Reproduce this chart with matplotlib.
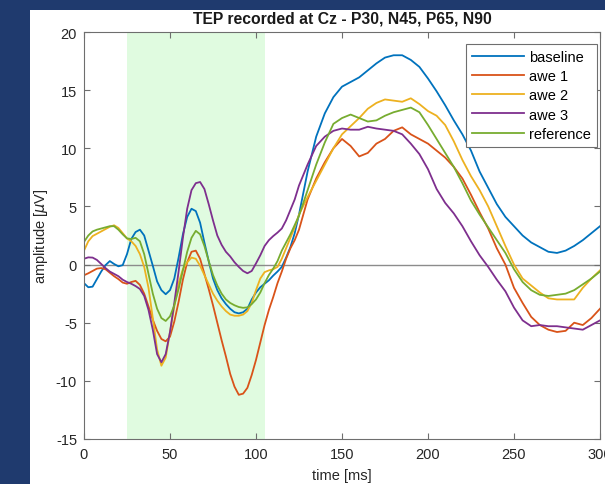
import numpy as np
import matplotlib
matplotlib.use("Agg")
import matplotlib.pyplot as plt
from matplotlib.patches import Rectangle

plt.rcParams['font.family'] = ['Liberation Sans', 'DejaVu Sans']
plt.rcParams['axes.unicode_minus'] = False

# time axis: 2.5 ms steps up to 122.5 ms, then 5 ms steps up to 300 ms
time_ms = np.concatenate([np.arange(0, 125, 2.5), np.arange(125, 301, 5)])

baseline = [-1.6, -1.95, -1.9, -1.25, -0.6, -0.05, 0.3, 0.05, -0.15, -0.05,
            0.9, 2.2, 2.8, 3.0, 2.5, 1.2, -0.1, -1.45, -2.2, -2.55,
            -2.2, -1.2, 0.6, 2.6, 4.1, 4.8, 4.6, 3.6, 1.9, 0.3,
            -1.2, -2.2, -2.9, -3.4, -3.8, -4.1, -4.2, -4.1, -3.8, -3.0,
            -2.4, -1.95, -1.65, -1.35, -0.95, -0.6, -0.2, 0.6, 1.5, 2.7, 4.3,
            8.0, 11.0, 13.0, 14.4, 15.3, 15.7, 16.1, 16.7, 17.3, 17.8, 18.0, 18.0, 17.6, 17.0,
            16.0, 14.9, 13.7, 12.4, 11.2, 9.8, 8.0, 6.6, 5.2, 4.1, 3.3, 2.5, 1.9, 1.5, 1.1,
            1.0, 1.2, 1.6, 2.1, 2.7, 3.3]
awe1 = [-0.92, -0.75, -0.55, -0.35, -0.3, -0.4, -0.7, -1.0, -1.25, -1.55,
        -1.65, -1.5, -1.4, -1.75, -2.5, -3.6, -4.75, -5.7, -6.4, -6.6,
        -6.2, -4.9, -3.2, -1.3, 0.2, 1.1, 1.2, 0.5, -0.8, -2.1,
        -3.5, -5.0, -6.5, -7.9, -9.4, -10.5, -11.2, -11.1, -10.6, -9.5,
        -8.2, -6.7, -5.2, -3.9, -2.8, -1.6, -0.6, 0.5, 1.4, 2.1, 3.0,
        5.6, 7.4, 8.8, 10.0, 10.8, 10.2, 9.3, 9.6, 10.4, 10.8, 11.5, 11.8, 11.2, 10.8,
        10.4, 9.8, 9.2, 8.4, 7.4, 6.0, 4.5, 3.1, 1.4, 0.0, -2.0, -3.3, -4.5, -5.2, -5.6,
        -5.8, -5.7, -5.0, -5.2, -4.6, -3.8]
awe2 = [1.2, 2.0, 2.45, 2.65, 2.85, 3.05, 3.25, 3.38, 3.15, 2.7,
        2.25, 2.0, 1.6, 0.9, -0.2, -2.0, -4.6, -7.3, -8.7, -8.0,
        -5.8, -3.6, -1.6, -0.4, 0.2, 0.6, 0.5, -0.1, -0.9, -1.7,
        -2.5, -3.1, -3.6, -4.0, -4.3, -4.4, -4.4, -4.3, -4.0, -3.3,
        -2.2, -1.2, -0.65, -0.5, -0.4, -0.2, 0.5, 1.4, 2.3, 3.2, 4.3,
        5.8, 7.2, 8.6, 10.0, 11.2, 11.9, 12.6, 13.4, 13.9, 14.2, 14.1, 14.0, 14.3, 13.8,
        13.2, 12.8, 12.0, 10.6, 9.0, 7.6, 6.4, 5.0, 3.3, 1.6, 0.0, -1.2, -1.8, -2.4, -2.9,
        -3.0, -3.0, -3.0, -2.0, -1.2, -0.5]
awe3 = [0.5, 0.62, 0.6, 0.4, 0.05, -0.3, -0.6, -0.8, -1.0, -1.3,
        -1.5, -1.65, -1.85, -2.1, -2.7, -3.9, -5.6, -7.7, -8.4, -7.7,
        -5.8, -3.3, -0.6, 2.3, 4.8, 6.4, 7.0, 7.1, 6.5, 5.2,
        3.8, 2.5, 1.7, 1.1, 0.7, 0.2, -0.2, -0.55, -0.75, -0.55,
        0.1, 0.8, 1.6, 2.1, 2.45, 2.75, 3.1, 3.8, 4.7, 5.6, 6.8,
        8.6, 10.2, 11.0, 11.5, 11.7, 11.6, 11.6, 11.85, 11.7, 11.6, 11.5, 11.2, 10.4, 9.5,
        8.2, 6.5, 5.3, 4.4, 3.3, 2.0, 0.8, -0.2, -1.3, -2.3, -3.7, -4.8, -5.3, -5.2, -5.3,
        -5.3, -5.4, -5.5, -5.6, -5.2, -4.8]
reference = [1.95, 2.5, 2.85, 3.0, 3.1, 3.2, 3.3, 3.3, 3.0, 2.6,
             2.25, 2.2, 2.3, 2.0, 0.9, -0.8, -2.5, -3.8, -4.6, -4.85,
             -4.45, -3.5, -2.1, -0.5, 1.1, 2.3, 2.9, 2.6, 1.6, 0.3,
             -0.9, -1.8, -2.5, -3.0, -3.3, -3.5, -3.65, -3.72, -3.68, -3.4,
             -3.0, -2.4, -1.6, -0.9, -0.35, 0.3, 1.2, 1.9, 2.6, 3.4, 4.2,
             6.4, 8.6, 10.5, 12.1, 12.6, 12.9, 12.6, 12.3, 12.4, 12.8, 13.1, 13.3, 13.5, 13.1,
             12.0, 10.8, 9.6, 8.4, 7.0, 5.5, 4.3, 3.2, 2.1, 1.0, -0.4, -1.5, -2.2, -2.6, -2.7,
             -2.6, -2.5, -2.2, -1.7, -1.2, -0.6]

series_names = ['baseline', 'awe 1', 'awe 2', 'awe 3', 'reference']
series_values = [baseline, awe1, awe2, awe3, reference]
colors = ['#0072BD', '#D95319', '#EDB120', '#7E2F8E', '#77AC30']
window = (25, 105)
title = 'TEP recorded at Cz - P30, N45, P65, N90'
xticks = [0, 50, 100, 150, 200, 250, 300]
yticks = [-15, -10, -5, 0, 5, 10, 15, 20]

fig = plt.figure(figsize=(6.05, 4.85), dpi=100, facecolor='#1f3a6e')
fig.patches.append(Rectangle((30 / 605, 0), 575 / 605, 474 / 485, transform=fig.transFigure,
                             facecolor='white', edgecolor='none', zorder=-10))
ax = fig.add_axes([84 / 605, 1 - 440 / 485, 516 / 605, 407 / 485])
ax.axvspan(window[0], window[1], color='#e0fbe0', zorder=0, lw=0)
ax.axhline(0, color='#8c8c8c', lw=1.0, zorder=1)
for name, vals, c in zip(series_names, series_values, colors):
    ax.plot(time_ms, vals, color=c, lw=1.3, label=name, zorder=2)

ax.set_xlim(0, 300)
ax.set_ylim(-15, 20)
ax.set_xticks(xticks)
ax.set_yticks(yticks)
ax.tick_params(direction='in', top=True, right=True, length=4, width=0.8,
               colors='#6e6e6e', labelcolor='#262626', labelsize=10.5)
ax.tick_params(axis='x', pad=6)
ax.tick_params(axis='y', pad=5)
for s in ax.spines.values():
    s.set_color('#6e6e6e')
    s.set_linewidth(0.8)
ax.set_title(title, fontsize=11.3, fontweight='bold', color='#1a1a1a', pad=7)
ax.set_xlabel('time [ms]', fontsize=10.5, color='#262626', labelpad=5)
ax.set_ylabel(r'amplitude [$\mu$V]', fontsize=10.5, color='#262626', labelpad=4)
leg = ax.legend(loc='upper right', fontsize=10.5, handlelength=3.6, handletextpad=0.35,
                labelspacing=0.36, borderpad=0.4, fancybox=False, framealpha=1,
                borderaxespad=0, bbox_to_anchor=(0.994, 0.9705))
leg.get_frame().set_edgecolor('#6e6e6e')
leg.get_frame().set_linewidth(0.8)

fig.savefig('out.png', dpi=100, facecolor=fig.get_facecolor())
